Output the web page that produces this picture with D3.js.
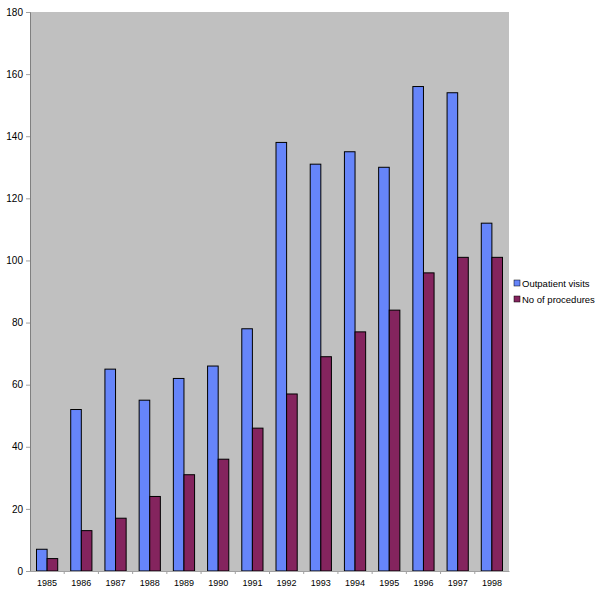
<!DOCTYPE html>
<html>
<head>
<meta charset="utf-8">
<script src="https://cdn.jsdelivr.net/npm/d3@7"></script>
<style>
  body { margin: 0; background: #fff; }
  text { font-family: Arial, "Liberation Sans", sans-serif; }
</style>
</head>
<body>
<div id="chart"></div>
<script>
// data
var years = ["1985", "1986", "1987", "1988", "1989", "1990", "1991", "1992", "1993", "1994", "1995", "1996", "1997", "1998"];
var outpatientVisits = [7, 52, 65, 55, 62, 66, 78, 138, 131, 135, 130, 156, 154, 112];
var procedures = [4, 13, 17, 24, 31, 36, 46, 57, 69, 77, 84, 96, 101, 101];
var seriesNames = ["Outpatient visits", "No of procedures"];
var yTicks = [0, 20, 40, 60, 80, 100, 120, 140, 160, 180];

var colors = ["#6685FA", "#84245E"];

var margin = {top: 12, right: 91, bottom: 31, left: 30};
var width = 600 - margin.left - margin.right;
var height = 602 - margin.top - margin.bottom;

var svg = d3.select("#chart").append("svg")
    .attr("width", 600)
    .attr("height", 602)
    .append("g")
    .attr("transform", "translate(" + margin.left + "," + margin.top + ")");

svg.append("rect")
    .attr("width", width)
    .attr("height", height)
    .attr("fill", "#C0C0C0");

var x0 = d3.scaleBand().domain(years).range([0, width]).paddingInner(0.38).paddingOuter(0.19);
var x1 = d3.scaleBand().domain(seriesNames).range([0, x0.bandwidth()]);
var y = d3.scaleLinear().domain([0, 180]).range([height, 0]);

var rows = years.map(function (yr, i) {
    return {year: yr, values: [outpatientVisits[i], procedures[i]]};
});

var groups = svg.selectAll(".grp")
    .data(rows)
    .enter().append("g")
    .attr("class", "grp")
    .attr("transform", function (d) { return "translate(" + x0(d.year) + ",0)"; });

groups.selectAll("rect")
    .data(function (d) { return d.values.map(function (v, j) { return {key: seriesNames[j], value: v, j: j}; }); })
    .enter().append("rect")
    .attr("x", function (d) { return x1(d.key); })
    .attr("y", function (d) { return y(d.value); })
    .attr("width", x1.bandwidth())
    .attr("height", function (d) { return height - y(d.value); })
    .attr("fill", function (d) { return colors[d.j]; })
    .attr("stroke", "#000")
    .attr("stroke-width", 1);

// axes
var yAxis = d3.axisLeft(y).tickValues(yTicks).tickSize(4).tickPadding(3);
var gy = svg.append("g").call(yAxis);
gy.select(".domain").attr("stroke", "#808080");
gy.selectAll(".tick line").attr("stroke", "#A0A0A0");
gy.selectAll("text").attr("font-size", 10).attr("fill", "#000");

var xAxis = d3.axisBottom(x0).tickSize(0).tickPadding(9);
var gx = svg.append("g").attr("transform", "translate(0," + height + ")").call(xAxis);
gx.select(".domain").attr("stroke", "#A0A0A0");
gx.selectAll("text").attr("font-size", 9).attr("fill", "#000");

// small tick marks between categories on the x axis
svg.selectAll(".xtick")
    .data(years.slice(1))
    .enter().append("line")
    .attr("x1", function (d) { return x0(d) - x0.step() * x0.paddingInner() / 2; })
    .attr("x2", function (d) { return x0(d) - x0.step() * x0.paddingInner() / 2; })
    .attr("y1", height)
    .attr("y2", height + 3)
    .attr("stroke", "#A0A0A0");

// legend
var legend = svg.append("g")
    .attr("transform", "translate(" + (width + 5) + "," + 268 + ")");

seriesNames.forEach(function (name, i) {
    var row = legend.append("g").attr("transform", "translate(0," + (i * 16) + ")");
    row.append("rect")
        .attr("width", 6)
        .attr("height", 6)
        .attr("fill", colors[i])
        .attr("stroke", "#000")
        .attr("stroke-width", 0.5);
    row.append("text")
        .attr("x", 8)
        .attr("y", 6.5)
        .attr("font-size", 9.5)
        .text(name);
});
</script>
</body>
</html>
